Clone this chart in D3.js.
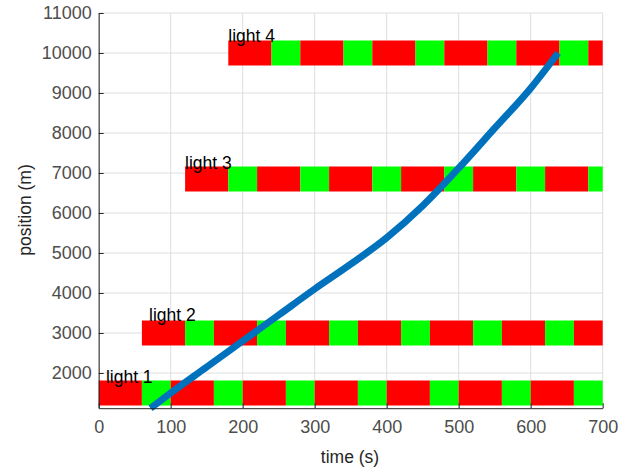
<!DOCTYPE html>
<meta charset="utf-8">
<style>
body { margin: 0; background: #fff; }
svg text { font-family: "Liberation Sans", Arial, sans-serif; }
.grid line { stroke: #dedede; stroke-width: 1; }
.axis path, .axis line { stroke: #262626; }
.axis text { fill: #4d4d4d; font-size: 18px; }
</style>
<svg width="632" height="470"></svg>
<script src="https://cdnjs.cloudflare.com/ajax/libs/d3/7.8.5/d3.min.js"></script>
<script>
// traffic lights: position (m) and switch times (s), red first then green
var lightNames = ["light 1", "light 2", "light 3", "light 4"];
var lightPos = [1500, 3000, 6850, 10000];
var lightSwitch = [
  [0, 60, 100, 160, 200, 260, 300, 360, 400, 460, 500, 560, 600, 660, 700],
  [60, 120, 160, 220, 260, 320, 360, 420, 460, 520, 560, 620, 660, 700],
  [120, 180, 220, 280, 320, 380, 420, 480, 520, 580, 620, 680, 700],
  [180, 240, 280, 340, 380, 440, 480, 540, 580, 640, 680, 700]
];
var labelT = [10, 70, 120, 180];
var labelY = [1900, 3450, 7250, 10420];

// vehicle trajectory
var carT = [72, 100, 150, 200, 250, 300, 350, 400, 450, 500, 550, 600, 638];
var carX = [1120, 1500, 2150, 2800, 3450, 4100, 4720, 5380, 6180, 7120, 8120, 9120, 10000];

var xTicks = [0, 100, 200, 300, 400, 500, 600, 700];
var yTicks = [2000, 3000, 4000, 5000, 6000, 7000, 8000, 9000, 10000, 11000];

var svg = d3.select("svg");
var x = d3.scaleLinear().domain([0, 700]).range([98.7, 602.7]);
var y = d3.scaleLinear().domain([1120, 11000]).range([408.2, 13]);

// grid
var grid = svg.append("g").attr("class", "grid");
grid.selectAll(".gx").data(xTicks).enter().append("line")
    .attr("x1", d => x(d)).attr("x2", d => x(d))
    .attr("y1", y(1120)).attr("y2", y(11000));
grid.selectAll(".gy").data(yTicks).enter().append("line")
    .attr("x1", x(0)).attr("x2", x(700))
    .attr("y1", d => y(d)).attr("y2", d => y(d));

// light bars
var barH = 12.5;
lightSwitch.forEach(function(sw, i) {
  var g = svg.append("g");
  for (var k = 0; k < sw.length - 1; k++) {
    g.append("rect")
      .attr("x", x(sw[k]))
      .attr("width", x(sw[k + 1]) - x(sw[k]))
      .attr("y", y(lightPos[i]) - barH)
      .attr("height", barH * 2)
      .attr("fill", k % 2 === 0 ? "#ff0000" : "#00ff00");
  }
});

// trajectory
var line = d3.line().x(d => x(d[0])).y(d => y(d[1])).curve(d3.curveMonotoneX);
svg.append("path")
    .datum(carT.map((t, i) => [t, carX[i]]))
    .attr("d", line)
    .attr("fill", "none")
    .attr("stroke", "#0072BD")
    .attr("stroke-width", 7);

// labels
svg.selectAll(".lbl").data(lightNames).enter().append("text")
    .attr("x", (d, i) => x(labelT[i]))
    .attr("y", (d, i) => y(labelY[i]))
    .attr("dominant-baseline", "central")
    .attr("fill", "#000")
    .style("font-size", "17.5px")
    .text(d => d);

// axes
svg.append("g").attr("class", "axis")
    .attr("transform", "translate(0," + y(1120) + ")")
    .call(d3.axisBottom(x).tickValues(xTicks).tickFormat(d3.format("d")).tickSizeInner(-5).tickSizeOuter(0).tickPadding(12))
    .selectAll("text").attr("dy", "0.71em");
svg.append("g").attr("class", "axis")
    .attr("transform", "translate(" + x(0) + ",0)")
    .call(d3.axisLeft(y).tickValues(yTicks).tickFormat(d3.format("d")).tickSizeInner(-5).tickSizeOuter(0).tickPadding(7));

svg.append("text")
    .attr("x", 350).attr("y", 463)
    .attr("text-anchor", "middle")
    .attr("fill", "#262626")
    .style("font-size", "17.5px")
    .text("time (s)");
svg.append("text")
    .attr("transform", "translate(31,210) rotate(-90)")
    .attr("text-anchor", "middle")
    .attr("fill", "#262626")
    .style("font-size", "17.5px")
    .text("position (m)");
</script>
